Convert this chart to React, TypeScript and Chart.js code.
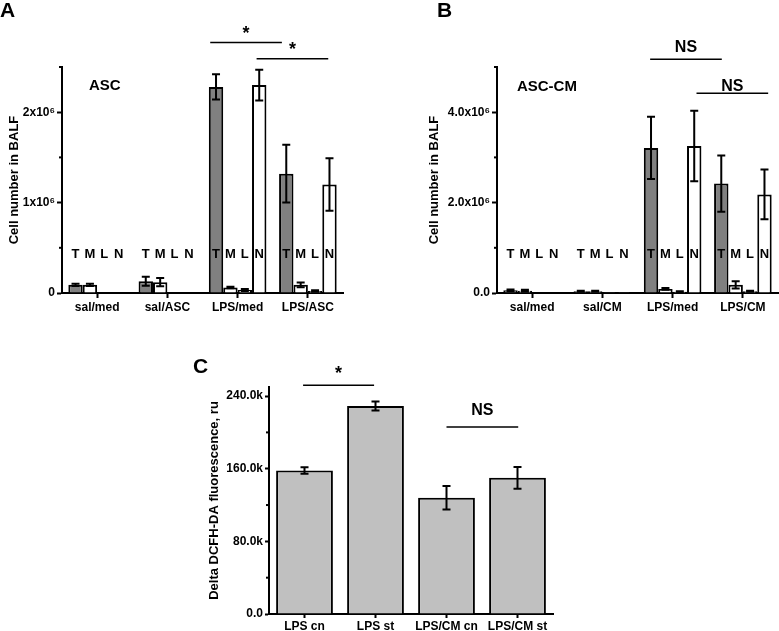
import React, { useEffect, useRef } from 'react';
import { Chart, registerables } from 'chart.js';

Chart.register(...registerables);

const FONT = "'Liberation Sans', Arial, Helvetica, sans-serif";

// ---------- Panel A data (cells in BALF, ASC) ----------
const groupsA = ['sal/med', 'sal/ASC', 'LPS/med', 'LPS/ASC'];
const cellTypes = ['T', 'M', 'L', 'N'];
const aT = [90000, 130000, 2280000, 1320000];
const aTErr = [12000, 50000, 140000, 320000];
const aM = [90000, 120000, 60000, 90000];
const aMErr = [12000, 45000, 8000, 26000];
const aL = [4000, 4000, 33000, 22000];
const aLErr = [0, 0, 12000, 8000];
const aN = [4000, 4000, 2300000, 1200000];
const aNErr = [0, 0, 170000, 290000];
const aTickValues = [0, 1000000, 2000000];
const aTickLabels = ['0', '1x10⁶', '2x10⁶'];

// ---------- Panel B data (cells in BALF, ASC-CM) ----------
const groupsB = ['sal/med', 'sal/CM', 'LPS/med', 'LPS/CM'];
const bT = [60000, 40000, 3210000, 2420000];
const bTErr = [20000, 10000, 690000, 620000];
const bM = [50000, 40000, 90000, 180000];
const bMErr = [20000, 10000, 20000, 80000];
const bL = [10000, 5000, 30000, 40000];
const bLErr = [0, 0, 10000, 10000];
const bN = [10000, 5000, 3250000, 2180000];
const bNErr = [0, 0, 780000, 550000];
const bTickValues = [0, 2000000, 4000000];
const bTickLabels = ['0.0', '2.0x10⁶', '4.0x10⁶'];

// ---------- Panel C data (DCFH-DA fluorescence) ----------
const groupsC = ['LPS cn', 'LPS st', 'LPS/CM cn', 'LPS/CM st'];
const cVal = [158000, 229000, 128000, 150000];
const cErr = [3500, 5000, 13000, 12000];
const cTickValues = [0, 80000, 160000, 240000];
const cTickLabels = ['0.0', '80.0k', '160.0k', '240.0k'];

// ---------- significance annotations (category index / value units) ----------
const sigA = [
  { from: 1.61, to: 2.63, at: 2770000, text: '*', textAt: 2810000 },
  { from: 2.27, to: 3.29, at: 2590000, text: '*', textAt: 2630000 },
];
const sigB = [
  { from: 1.68, to: 2.7, at: 5170000, text: 'NS', textAt: 5340000 },
  { from: 2.34, to: 3.36, at: 4420000, text: 'NS', textAt: 4470000 },
];
const sigC = [
  { from: -0.02, to: 0.98, at: 252000, text: '*', textAt: 259000 },
  { from: 2.0, to: 3.01, at: 206000, text: 'NS', textAt: 219000 },
];

const DARK = '#808080';
const WHITE = '#ffffff';
const LIGHT = '#c0c0c0';

function majorIndex(cfg: any, v: number) {
  const tol = cfg.yMax * 1e-6;
  return cfg.tickValues.findIndex((t: number) => Math.abs(t - v) < tol);
}

function overlayPlugin(cfg: any) {
  return {
    id: 'overlay',
    afterDatasetsDraw(chart: any) {
      const { ctx } = chart;
      const ys = chart.scales.y;
      ctx.save();
      ctx.strokeStyle = '#000';
      ctx.lineWidth = 2;
      chart.data.datasets.forEach((ds: any, i: number) => {
        const meta = chart.getDatasetMeta(i);
        meta.data.forEach((el: any, j: number) => {
          const e = ds.errors[j];
          if (!e) return;
          const v = ds.data[j];
          const y1 = ys.getPixelForValue(v + e);
          const y2 = ys.getPixelForValue(v - e);
          const x = el.x;
          const c = cfg.cap;
          ctx.beginPath();
          ctx.moveTo(x, y1); ctx.lineTo(x, y2);
          ctx.moveTo(x - c, y1); ctx.lineTo(x + c, y1);
          ctx.moveTo(x - c, y2); ctx.lineTo(x + c, y2);
          ctx.stroke();
        });
      });
      ctx.restore();
    },
    afterDraw(chart: any) {
      const { ctx, chartArea } = chart;
      const xs = chart.scales.x;
      const ys = chart.scales.y;
      ctx.save();
      ctx.fillStyle = '#000';
      ctx.strokeStyle = '#000';
      // minor ticks
      ctx.lineWidth = 2;
      ys.ticks.forEach((t: any) => {
        if (majorIndex(cfg, t.value) >= 0) return;
        const y = ys.getPixelForValue(t.value);
        ctx.beginPath();
        ctx.moveTo(chartArea.left - 3, y);
        ctx.lineTo(chartArea.left, y);
        ctx.stroke();
      });
      // cell-type letters
      if (cfg.letterAt != null) {
        ctx.font = `bold 13px ${FONT}`;
        ctx.textAlign = 'center';
        ctx.textBaseline = 'alphabetic';
        const y = ys.getPixelForValue(cfg.letterAt);
        chart.data.datasets.forEach((ds: any, i: number) => {
          chart.getDatasetMeta(i).data.forEach((el: any) => {
            ctx.fillText(ds.label, el.x, y);
          });
        });
      }
      // tag
      if (cfg.tag) {
        ctx.font = `bold 15px ${FONT}`;
        ctx.textAlign = 'center';
        ctx.textBaseline = 'alphabetic';
        ctx.fillText(cfg.tag.text, xs.getPixelForValue(cfg.tag.at), ys.getPixelForValue(cfg.tag.value));
      }
      // significance
      ctx.lineWidth = 1.5;
      cfg.sigs.forEach((s: any) => {
        const x1 = xs.getPixelForValue(s.from);
        const x2 = xs.getPixelForValue(s.to);
        const y = ys.getPixelForValue(s.at);
        ctx.beginPath();
        ctx.moveTo(x1, y);
        ctx.lineTo(x2, y);
        ctx.stroke();
        ctx.font = s.text === '*' ? `bold 18px ${FONT}` : `bold 16px ${FONT}`;
        ctx.textAlign = 'center';
        ctx.textBaseline = 'alphabetic';
        ctx.fillText(s.text, (x1 + x2) / 2, ys.getPixelForValue(s.textAt));
      });
      ctx.restore();
    },
  };
}

function buildConfig(cfg: any) {
  const { area, width, height } = cfg;
  return {
    type: 'bar',
    data: {
      labels: cfg.labels,
      datasets: cfg.series.map((s: any) => ({
        label: s.label,
        data: s.data,
        errors: s.errors,
        backgroundColor: s.color,
        borderColor: '#000',
        borderWidth: 2,
        categoryPercentage: cfg.catPct,
        barPercentage: cfg.barPct,
      })),
    },
    options: {
      responsive: false,
      animation: false,
      devicePixelRatio: 1,
      layout: { padding: { left: 0, top: area.top, right: width - area.right, bottom: 0 } },
      plugins: { legend: { display: false }, tooltip: { enabled: false } },
      scales: {
        x: {
          type: 'category',
          offset: true,
          z: 1,
          grid: {
            display: true,
            drawOnChartArea: false,
            drawTicks: true,
            tickLength: cfg.tickLen,
            tickWidth: 2,
            tickColor: '#000',
            offset: false,
          },
          border: { display: true, color: '#000', width: 2 },
          ticks: {
            color: '#000',
            font: { family: FONT, size: 12, weight: 'bold' },
            padding: cfg.xPad,
            maxRotation: 0,
            autoSkip: false,
          },
          afterFit: (s: any) => { s.height = height - area.bottom; },
        },
        y: {
          type: 'linear',
          min: 0,
          max: cfg.yMax,
          bounds: 'data',
          z: 1,
          grid: {
            display: true,
            drawOnChartArea: false,
            drawTicks: true,
            tickLength: cfg.tickLen,
            tickWidth: 2,
            tickColor: (c: any) => (c.tick && majorIndex(cfg, c.tick.value) >= 0 ? '#000' : 'rgba(0,0,0,0)'),
          },
          border: { display: true, color: '#000', width: 2 },
          afterBuildTicks: (s: any) => {
            const list: any[] = [];
            const n = Math.floor(cfg.yMax / cfg.yStep + 1e-9);
            for (let k = 0; k <= n; k++) list.push({ value: k * cfg.yStep });
            s.ticks = list;
          },
          ticks: {
            autoSkip: false,
            color: '#000',
            padding: 2,
            font: { family: FONT, size: 12, weight: 'bold' },
            callback: (v: number) => {
              const k = majorIndex(cfg, v);
              return k >= 0 ? cfg.tickLabels[k] : '';
            },
          },
          title: {
            display: true,
            text: cfg.yTitle,
            color: '#000',
            font: { family: FONT, size: 13, weight: 'bold' },
            padding: { top: cfg.titlePad, bottom: 0 },
          },
          afterFit: (s: any) => { s.width = area.left; },
        },
      },
    },
    plugins: [overlayPlugin(cfg)],
  };
}

const panelA = {
  labels: groupsA,
  series: [
    { label: cellTypes[0], data: aT, errors: aTErr, color: DARK },
    { label: cellTypes[1], data: aM, errors: aMErr, color: WHITE },
    { label: cellTypes[2], data: aL, errors: aLErr, color: WHITE },
    { label: cellTypes[3], data: aN, errors: aNErr, color: WHITE },
  ],
  yMax: 2500000, yStep: 500000,
  tickValues: aTickValues, tickLabels: aTickLabels,
  yTitle: 'Cell number in BALF',
  width: 390, height: 320,
  area: { left: 62, top: 67, right: 343, bottom: 293 },
  titlePad: 7, catPct: 0.82, barPct: 1, tickLen: 5, xPad: 2, cap: 4,
  letterAt: 385000,
  tag: { text: 'ASC', at: 0.11, value: 2250000 },
  sigs: sigA,
};

const panelB = {
  labels: groupsB,
  series: [
    { label: cellTypes[0], data: bT, errors: bTErr, color: DARK },
    { label: cellTypes[1], data: bM, errors: bMErr, color: WHITE },
    { label: cellTypes[2], data: bL, errors: bLErr, color: WHITE },
    { label: cellTypes[3], data: bN, errors: bNErr, color: WHITE },
  ],
  yMax: 5000000, yStep: 1000000,
  tickValues: bTickValues, tickLabels: bTickLabels,
  yTitle: 'Cell number in BALF',
  width: 389, height: 320,
  area: { left: 107, top: 67, right: 388, bottom: 293 },
  titlePad: 37, catPct: 0.82, barPct: 1, tickLen: 5, xPad: 2, cap: 4,
  letterAt: 770000,
  tag: { text: 'ASC-CM', at: 0.21, value: 4470000 },
  sigs: sigB,
};

const panelC = {
  labels: groupsC,
  series: [{ label: 'DCFH-DA', data: cVal, errors: cErr, color: LIGHT }],
  yMax: 250000, yStep: 40000,
  tickValues: cTickValues, tickLabels: cTickLabels,
  yTitle: 'Delta DCFH-DA fluorescence, ru',
  width: 380, height: 301,
  area: { left: 69, top: 57, right: 353, bottom: 284 },
  titlePad: 7, catPct: 0.8, barPct: 1, tickLen: 4, xPad: 1, cap: 4,
  letterAt: null,
  tag: null,
  sigs: sigC,
};

function ChartPanel({ cfg, left, top }: any) {
  const ref = useRef<HTMLCanvasElement>(null);
  useEffect(() => {
    const chart = new Chart(ref.current as HTMLCanvasElement, buildConfig(cfg) as any);
    return () => chart.destroy();
  }, []);
  return (
    <div style={{ position: 'absolute', left, top, width: cfg.width, height: cfg.height }}>
      <canvas ref={ref} width={cfg.width} height={cfg.height} style={{ width: cfg.width, height: cfg.height, display: 'block' }} />
    </div>
  );
}

const labelStyle = (left: number, top: number): React.CSSProperties => ({
  position: 'absolute',
  left,
  top,
  fontFamily: FONT,
  fontWeight: 'bold',
  fontSize: 21,
  lineHeight: '21px',
  color: '#000',
});

export default function App() {
  return (
    <div style={{ position: 'absolute', left: 0, top: 0, width: 779, height: 631, background: '#fff', overflow: 'hidden' }}>
      <ChartPanel cfg={panelA} left={0} top={0} />
      <ChartPanel cfg={panelB} left={390} top={0} />
      <ChartPanel cfg={panelC} left={200} top={330} />
      <div style={labelStyle(0, -1)}>A</div>
      <div style={labelStyle(437, -1)}>B</div>
      <div style={labelStyle(193, 355)}>C</div>
    </div>
  );
}
